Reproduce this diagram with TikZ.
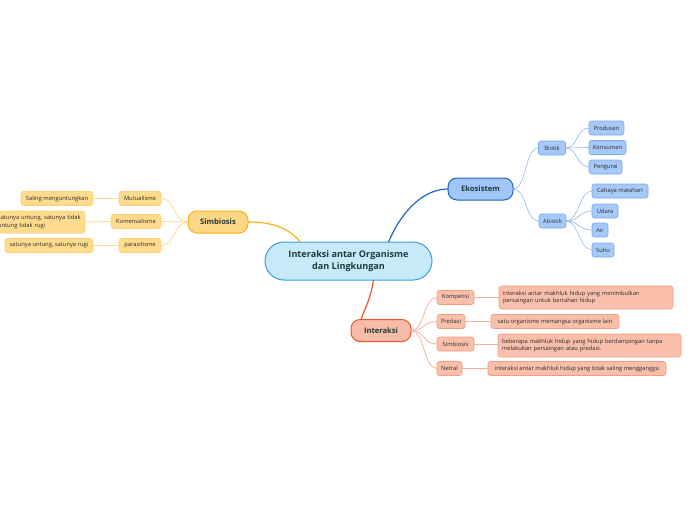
\documentclass[tikz,border=0pt]{standalone}
\usepackage{fontspec}
\setmainfont{Open Sans}
\definecolor{rootF}{HTML}{C7EAFB}
\definecolor{rootB}{HTML}{3C9BDC}
\definecolor{ekoF}{HTML}{A1C6F7}
\definecolor{ekoB}{HTML}{1E64C8}
\definecolor{blueF}{HTML}{A6C9F8}
\definecolor{blueB}{HTML}{78A9EE}
\definecolor{blueL}{HTML}{8EB8F0}
\definecolor{simF}{HTML}{FFD685}
\definecolor{simB}{HTML}{F7B217}
\definecolor{yelF}{HTML}{FFDB8E}
\definecolor{yelB}{HTML}{FFCF70}
\definecolor{yelL}{HTML}{FFD994}
\definecolor{intF}{HTML}{F9BCA8}
\definecolor{intB}{HTML}{E8582C}
\definecolor{salF}{HTML}{F9BFAB}
\definecolor{salB}{HTML}{F29C80}
\definecolor{salL}{HTML}{F6B39C}
\definecolor{txtMain}{HTML}{1F3B3B}
\definecolor{txtSmall}{HTML}{2B2B2B}
\begin{document}
\begin{tikzpicture}[x=1pt,y=-1pt,
  base/.style={inner sep=0pt, outer sep=0pt, align=center},
  rootnode/.style={base, draw=rootB, fill=rootF, line width=1pt, rounded corners=19pt,
     minimum width=167pt, minimum height=38pt, text=txtMain,
     font=\fontsize{9.1}{11.5}\selectfont\bfseries},
  mainnode/.style={base, line width=1pt, rounded corners=9pt, minimum height=22pt,
     text=txtMain, font=\fontsize{7.6}{9}\selectfont\bfseries},
  smallnode/.style={base, line width=0.6pt, rounded corners=2.5pt, minimum height=14pt,
     text=txtSmall, font=\fontsize{5.8}{7}\selectfont},
  bsmall/.style={smallnode, draw=blueB, fill=blueF},
  ysmall/.style={smallnode, draw=yelB, fill=yelF},
  ssmall/.style={smallnode, draw=salB, fill=salF},
  desc/.style={align=left, text width=#1, inner xsep=4pt},
  bline/.style={draw=blueL, line width=0.6pt},
  yline/.style={draw=yelL, line width=0.8pt},
  sline/.style={draw=salL, line width=0.8pt}
]
\useasboundingbox (0,0) rectangle (696,520);
\clip (0,0) rectangle (696,520);

% central
\node[rootnode] (c) at (348.5,261) {Interaksi antar Organisme\\dan Lingkungan};

% main topics
\node[mainnode, draw=ekoB, fill=ekoF, minimum width=65pt] (eko) at (480.5,189) {Ekosistem};
\node[mainnode, draw=simB, fill=simF, minimum width=60pt] (sim) at (218,222) {Simbiosis};
\node[mainnode, draw=intB, fill=intF, minimum width=60pt] (int) at (381,330.5) {Interaksi};

% Ekosistem branch
\node[bsmall, minimum width=27pt] (bio) at (552,148) {Biotik};
\node[bsmall, minimum width=35pt] (pro) at (606.5,128) {Produsen};
\node[bsmall, minimum width=37pt] (kon) at (607.5,147.5) {Konsumen};
\node[bsmall, minimum width=33pt] (pen) at (605.5,167) {Pengurai};
\node[bsmall, minimum width=27pt] (abi) at (552.5,221) {Abiotik};
\node[bsmall, minimum width=56pt] (cah) at (620,191) {Cahaya matahari};
\node[bsmall, minimum width=26pt] (uda) at (605,211) {Udara};
\node[bsmall, minimum width=16pt] (air) at (600,230) {Air};
\node[bsmall, minimum width=22pt] (suh) at (603,250) {Suhu};

% Simbiosis branch
\node[ysmall, minimum width=42pt] (mut) at (140,198.5) {Mutualisme};
\node[ysmall, minimum width=50pt] (kms) at (136,221.5) {Komensalisme};
\node[ysmall, minimum width=42pt] (par) at (140,245.5) {parasitisme};
\node[ysmall, minimum width=72pt] (sal) at (57,198.5) {Saling menguntungkan};
\node[ysmall, desc=83pt, minimum height=22pt, font=\fontsize{5.8}{7.8}\selectfont] (kmd) at (39.5,222) {satunya untung, satunya tidak\\untung tidak rugi};
\node[ysmall, minimum width=88pt] (pad) at (49,245.5) {satunya untung, satunya rugi};

% Interaksi branch
\node[ssmall, minimum width=37pt] (kom) at (455.5,297.5) {Kompetisi};
\node[ssmall, minimum width=28pt] (pre) at (451,321.5) {Predasi};
\node[ssmall, minimum width=37pt] (sib) at (455.5,344) {Simbiosis};
\node[ssmall, minimum width=25pt] (net) at (449.5,368.5) {Netral};
\node[ssmall, desc=166pt, minimum height=23pt, font=\fontsize{5.8}{7.8}\selectfont] (d1) at (586,297.5) {interaksi antar makhluk hidup yang menimbulkan\\persaingan untuk bertahan hidup};
\node[ssmall, minimum width=128pt] (d2) at (555,321.5) {satu organisme memangsa organisme lain};
\node[ssmall, desc=175pt, minimum height=23pt, font=\fontsize{5.8}{7.8}\selectfont] (d3) at (589.5,345.5) {beberapa makhluk hidup yang hidup berdampingan tanpa\\melakukan persaingan atau predasi.};
\node[ssmall, minimum width=178pt] (d4) at (577,368.5) {interaksi antar makhluk hidup yang tidak saling mengganggu};

% main connectors
\draw[draw=ekoB, line width=1.2pt] ([xshift=40pt]c.north) .. controls +(15,-35) and +(-22,0) .. (eko.west);
\draw[draw=simB, line width=1.2pt] ([xshift=-48pt]c.north) .. controls +(-12,-14) and +(25,0) .. (sim.east);
\draw[draw=intB, line width=1.2pt] ([xshift=25pt]c.south) .. controls +(-3,20) and +(4,-12) .. ([xshift=-20pt]int.north);

% Ekosistem connectors
\foreach \t in {bio,abi}
  \draw[bline] (eko.east) .. controls +(14,0) and +(-14,0) .. (\t.west);
\foreach \t in {pro,kon,pen}
  \draw[bline] (bio.east) .. controls +(12,0) and +(-12,0) .. (\t.west);
\foreach \t in {cah,uda,air,suh}
  \draw[bline] (abi.east) .. controls +(13,0) and +(-13,0) .. (\t.west);

% Simbiosis connectors
\foreach \t in {mut,kms,par}
  \draw[yline] (sim.west) .. controls +(-14,0) and +(14,0) .. (\t.east);
\draw[yline] (mut.west) -- (sal.east);
\draw[yline] (kms.west) -- (kmd.east);
\draw[yline] (par.west) -- (pad.east);

% Interaksi connectors
\foreach \t in {kom,pre,sib,net}
  \draw[sline] (int.east) .. controls +(14,0) and +(-14,0) .. (\t.west);
\draw[sline] (kom.east) -- (kom.east -| d1.west);
\draw[sline] (pre.east) -- (d2.west);
\draw[sline] (sib.east) -- (sib.east -| d3.west);
\draw[sline] (net.east) -- (d4.west);
\end{tikzpicture}
\end{document}
